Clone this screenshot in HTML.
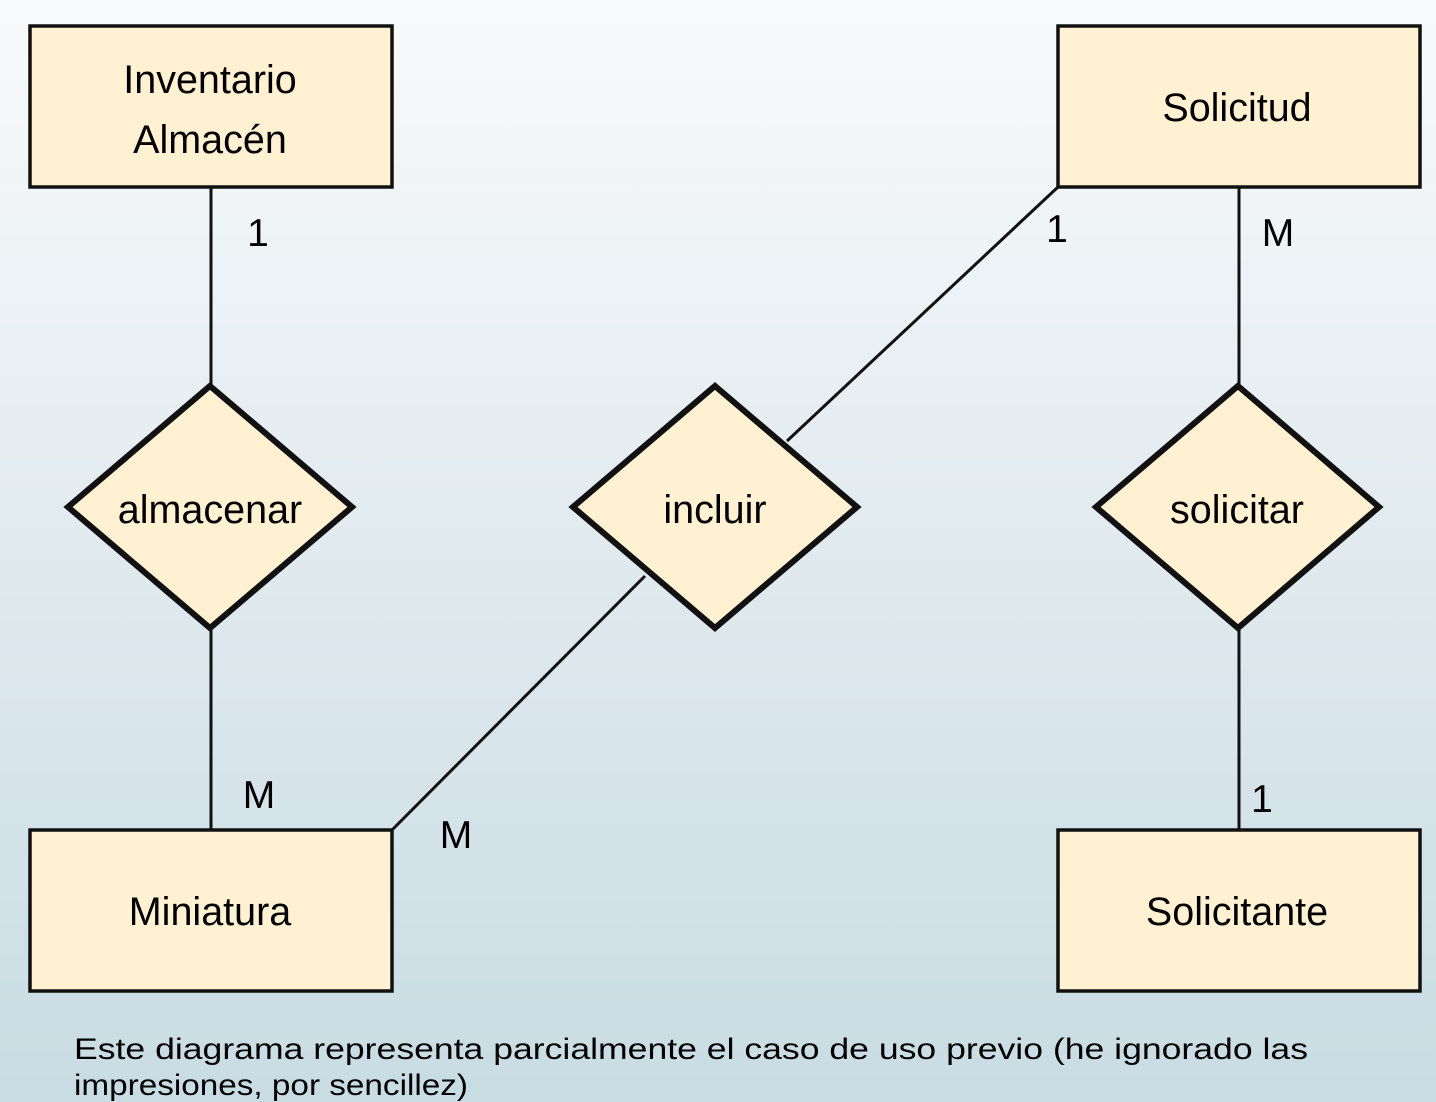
<!DOCTYPE html>
<html><head><meta charset="utf-8"><style>
html,body{margin:0;padding:0;}
body{width:1436px;height:1102px;overflow:hidden;background:linear-gradient(#f9fafc 0%,#e3ecf0 45%,#c8dce3 100%);}
svg{position:absolute;left:0;top:0;}
text{font-family:"Liberation Sans",sans-serif;fill:#000;}
</style></head><body>
<svg width="1436" height="1102" viewBox="0 0 1436 1102">
<g stroke="#111" stroke-width="3" fill="none">
<line x1="211" y1="187" x2="211" y2="386"/>
<line x1="211" y1="628" x2="211" y2="830"/>
<line x1="1239" y1="187" x2="1239" y2="386"/>
<line x1="1239" y1="628" x2="1239" y2="830"/>
<line x1="1058" y1="187" x2="787" y2="441"/>
<line x1="645" y1="576" x2="392" y2="830"/>
</g>
<g stroke="#111" stroke-width="3.5" fill="#fff1d2">
<rect x="30" y="26" width="362" height="161"/>
<rect x="1058" y="26" width="362" height="161"/>
<rect x="30" y="830" width="362" height="161"/>
<rect x="1058" y="830" width="362" height="161"/>
</g>
<g stroke="#111" stroke-width="6" fill="#fff1d2" stroke-linejoin="miter">
<polygon points="210,386 352,507 210,628 68,507"/>
<polygon points="715,386 857,507 715,628 573,507"/>
<polygon points="1238,386 1379,507 1238,628 1096,507"/>
</g>
<g font-size="39.5" text-anchor="middle">
<text x="210" y="93">Inventario</text>
<text x="210" y="153">Almacén</text>
<text x="1237" y="121">Solicitud</text>
<text x="210" y="925">Miniatura</text>
<text x="1237" y="925">Solicitante</text>
<text x="210" y="523">almacenar</text>
<text x="715" y="523">incluir</text>
<text x="1237" y="523">solicitar</text>
</g>
<g font-size="39" text-anchor="middle">
<text x="258" y="246">1</text>
<text x="259" y="808">M</text>
<text x="1057" y="242">1</text>
<text x="1278" y="246">M</text>
<text x="1262" y="812">1</text>
<text x="456" y="848">M</text>
</g>
<g font-size="30">
<text x="74" y="1059" textLength="1234" lengthAdjust="spacingAndGlyphs">Este diagrama representa parcialmente el caso de uso previo  (he ignorado las</text>
<text x="74" y="1095" textLength="394" lengthAdjust="spacingAndGlyphs">impresiones, por sencillez)</text>
</g>
</svg>
</body></html>
